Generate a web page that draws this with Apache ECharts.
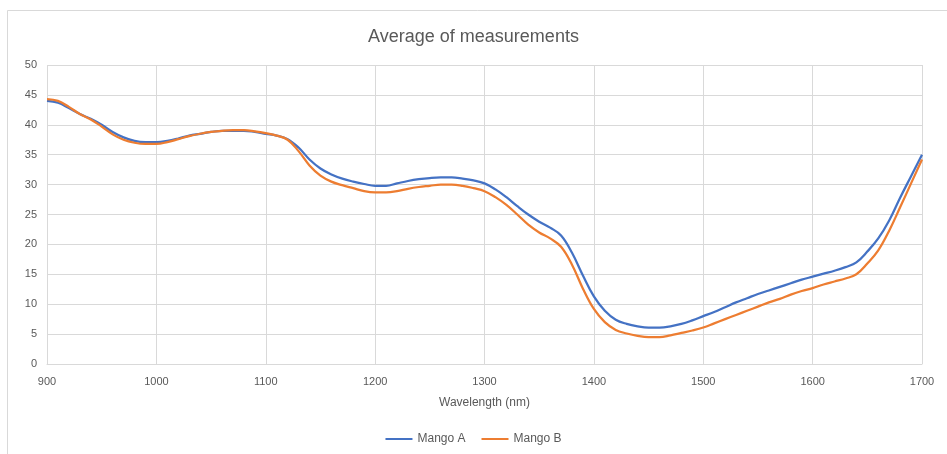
<!DOCTYPE html>
<html><head><meta charset="utf-8">
<script src="https://cdn.jsdelivr.net/npm/echarts@6/dist/echarts.min.js"></script>
<style>html,body{margin:0;padding:0;background:#fff}#c{width:947px;height:454px}</style>
</head><body><div id="c"></div>
<script>
const wavelengths = [900,910,920,930,940,950,960,970,980,990,1000,1010,1020,1030,1040,1050,1060,1070,1080,1090,1100,1110,1120,1130,1140,1150,1160,1170,1180,1190,1200,1210,1220,1230,1240,1250,1260,1270,1280,1290,1300,1310,1320,1330,1340,1350,1360,1370,1380,1390,1400,1410,1420,1430,1440,1450,1460,1470,1480,1490,1500,1510,1520,1530,1540,1550,1560,1570,1580,1590,1600,1610,1620,1630,1640,1650,1660,1670,1680,1690,1700];
const mangoA = [44.0,43.7,42.8,41.8,41.0,40.0,38.8,37.9,37.3,37.1,37.1,37.3,37.7,38.2,38.5,38.8,39.0,39.0,39.0,38.8,38.5,38.2,37.6,36.2,34.2,32.7,31.7,31.0,30.5,30.1,29.8,29.8,30.2,30.6,30.9,31.1,31.2,31.2,31.0,30.7,30.2,29.2,27.9,26.4,25.0,23.8,22.8,21.5,18.6,14.8,11.3,8.9,7.4,6.7,6.3,6.1,6.1,6.3,6.7,7.3,8.0,8.7,9.5,10.3,11.0,11.7,12.3,12.9,13.5,14.1,14.6,15.1,15.6,16.2,17.0,18.8,21.0,24.0,27.8,31.4,35.0];
const mangoB = [44.3,44.0,43.0,41.8,40.9,39.7,38.4,37.5,37.0,36.8,36.8,37.1,37.6,38.1,38.5,38.8,39.0,39.1,39.1,38.9,38.6,38.2,37.5,35.6,33.2,31.5,30.5,29.9,29.4,28.9,28.7,28.7,28.9,29.3,29.6,29.8,30.0,30.0,29.8,29.4,28.9,27.9,26.6,25.0,23.3,22.0,21.0,19.6,16.6,12.6,9.2,7.0,5.7,5.1,4.7,4.5,4.5,4.8,5.2,5.6,6.1,6.8,7.5,8.2,8.9,9.6,10.3,10.9,11.6,12.2,12.7,13.3,13.8,14.3,15.0,16.8,19.0,22.3,26.2,30.2,34.2];
const seriesNames = ['Mango A','Mango B'];
const titleText = 'Average of measurements';
const xName = 'Wavelength (nm)';

const chart = echarts.init(document.getElementById('c'));
const font = 'Liberation Sans, Arial, sans-serif';
chart.setOption({
  animation:false,
  backgroundColor:'#fff',
  graphic:[{type:'rect',shape:{x:7.5,y:10.5,width:945,height:450},style:{fill:'none',stroke:'#d9d9d9',lineWidth:1}}],
  title:{text:titleText,left:'center',top:23,textStyle:{fontFamily:font,fontSize:18,fontWeight:'normal',color:'#595959'}},
  legend:{data:seriesNames,bottom:4,left:'center',icon:'rect',itemWidth:27,itemHeight:2,itemGap:16,textStyle:{fontFamily:font,fontSize:12,color:'#595959'}},
  grid:{left:47,right:25,top:65,bottom:90,containLabel:false},
  xAxis:{type:'value',min:900,max:1700,interval:100,name:xName,nameLocation:'middle',nameGap:33,
    nameTextStyle:{fontFamily:font,fontSize:12,color:'#595959'},
    axisLine:{lineStyle:{color:'#d9d9d9'}},axisTick:{show:false},
    axisLabel:{fontFamily:font,fontSize:11,color:'#595959',margin:12,formatter:v=>String(v)},
    splitLine:{show:true,lineStyle:{color:'#d9d9d9'}}},
  yAxis:{type:'value',min:0,max:50,interval:5,
    axisLine:{show:false},axisTick:{show:false},
    axisLabel:{fontFamily:font,fontSize:11,color:'#595959',margin:10},
    splitLine:{lineStyle:{color:'#d9d9d9'}}},
  series:[
    {name:seriesNames[0],type:'line',smooth:0.4,showSymbol:false,data:wavelengths.map((w,i)=>[w,mangoA[i]]),lineStyle:{width:2.25,color:'#4472C4'},itemStyle:{color:'#4472C4'}},
    {name:seriesNames[1],type:'line',smooth:0.4,showSymbol:false,data:wavelengths.map((w,i)=>[w,mangoB[i]]),lineStyle:{width:2.25,color:'#ED7D31'},itemStyle:{color:'#ED7D31'}}
  ]
});
</script></body></html>
